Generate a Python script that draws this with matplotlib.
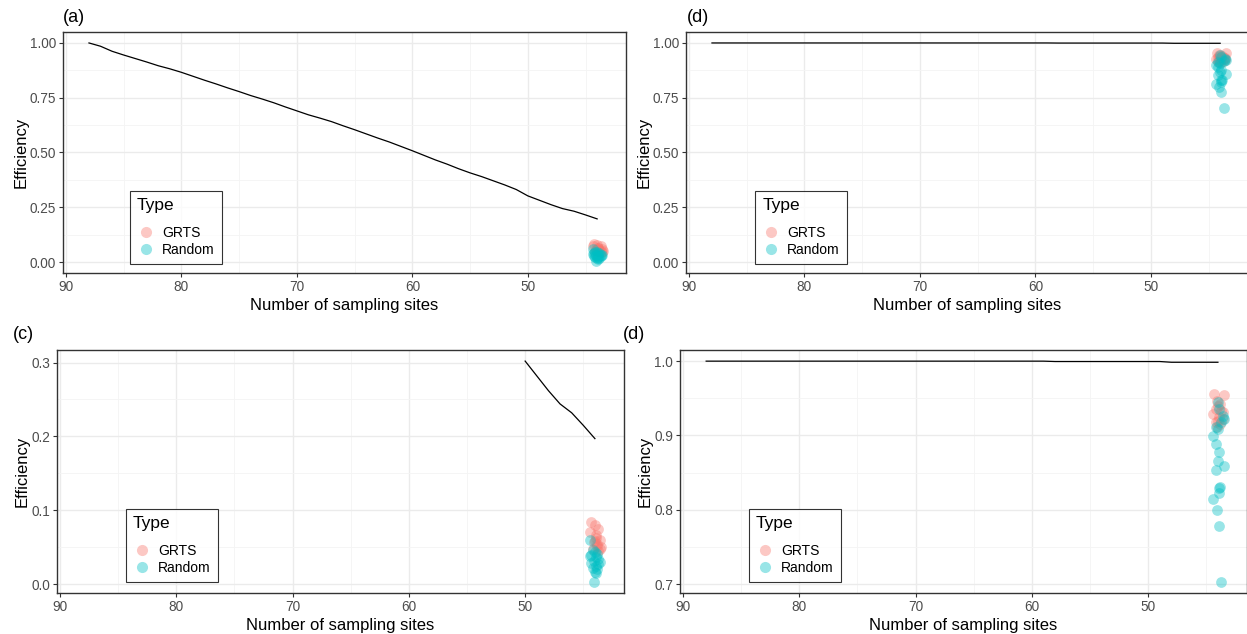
import numpy as np
import matplotlib
matplotlib.use('Agg')
import matplotlib.pyplot as plt
from matplotlib.lines import Line2D
from matplotlib.ticker import MultipleLocator

plt.rcParams['font.family'] = ['Liberation Sans', 'DejaVu Sans']

# number of sampling sites for the efficiency curves
sites = list(range(88, 43, -1))

# efficiency curve for panels (a) and (c)
eff_left = [1.000, 0.985, 0.962, 0.945, 0.929, 0.913, 0.896, 0.882, 0.866, 0.848,
            0.830, 0.813, 0.795, 0.778, 0.760, 0.744, 0.727, 0.708, 0.690, 0.672,
            0.657, 0.641, 0.622, 0.604, 0.585, 0.566, 0.548, 0.528, 0.508, 0.487,
            0.466, 0.447, 0.426, 0.407, 0.390, 0.371, 0.352, 0.331, 0.302, 0.282,
            0.262, 0.244, 0.232, 0.215, 0.197]

# efficiency curve for the right panels
eff_right = [1.000] * 30 + [0.9995] * 10 + [0.9985] * 5

# sampled designs, left panels
grts_x_left = [44.3, 44.0, 43.7, 43.9, 43.6, 44.1, 43.8, 43.5, 44.2, 43.9, 43.7, 44.4, 43.8, 44.0, 43.6]
grts_y_left = [0.084, 0.080, 0.075, 0.066, 0.060, 0.057, 0.054, 0.050, 0.048, 0.062, 0.045, 0.071, 0.052, 0.058, 0.047]
rand_x_left = [44.4, 44.2, 44.0, 43.8, 44.3, 43.9, 43.7, 44.1, 44.3, 43.6, 43.9, 44.2, 43.8, 44.0, 43.9, 44.4, 43.7, 44.1]
rand_y_left = [0.060, 0.046, 0.044, 0.041, 0.040, 0.037, 0.034, 0.032, 0.028, 0.030, 0.025, 0.022, 0.020, 0.017, 0.015, 0.038, 0.027, 0.003]

# sampled designs, right panels
grts_x_right = [44.3, 43.5, 44.1, 43.8, 44.2, 43.7, 44.4, 43.9, 43.6, 44.0, 44.2, 43.8, 43.6, 44.0, 44.1]
grts_y_right = [0.956, 0.955, 0.947, 0.942, 0.936, 0.933, 0.929, 0.925, 0.922, 0.920, 0.918, 0.915, 0.931, 0.940, 0.912]
rand_x_right = [44.0, 43.6, 43.5, 44.2, 44.0, 44.4, 44.2, 43.9, 44.0, 43.5, 44.2, 43.8, 43.9, 43.9, 44.4, 44.1, 43.9, 43.7, 43.9, 43.7]
rand_y_right = [0.945, 0.926, 0.922, 0.911, 0.909, 0.899, 0.889, 0.878, 0.866, 0.859, 0.853, 0.831, 0.829, 0.822, 0.814, 0.800, 0.778, 0.703, 0.935, 0.918]

panel_titles = ['(a)', '(d)', '(c)', '(d)']

GRTS_COL = '#F8766D'
RAND_COL = '#00BFC4'
W, H = 1247, 634


def box(l, r, t, b):
    return [l / W, (H - b) / H, (r - l) / W, (b - t) / H]


fig = plt.figure(figsize=(W / 100, H / 100), dpi=100)

panels = [
    dict(rect=box(63, 626, 32, 273), y=eff_left, gx=grts_x_left, gy=grts_y_left,
         rx=rand_x_left, ry=rand_y_left, ylim=(-0.05, 1.05), step=0.25, fmt='{:.2f}',
         leg=(0.119, 0.037), title_xy=(63, 17)),
    dict(rect=box(686, 1249, 32, 273), y=eff_right, gx=grts_x_right, gy=grts_y_right,
         rx=rand_x_right, ry=rand_y_right, ylim=(-0.05, 1.05), step=0.25, fmt='{:.2f}',
         leg=(0.123, 0.037), title_xy=(687, 17)),
    dict(rect=box(57, 624, 350, 593), y=eff_left, gx=grts_x_left, gy=grts_y_left,
         rx=rand_x_left, ry=rand_y_left, ylim=(-0.012, 0.317), step=0.1, fmt='{:.1f}',
         leg=(0.122, 0.045), title_xy=(13, 334), xmin=50),
    dict(rect=box(680, 1247, 350, 593), y=eff_right, gx=grts_x_right, gy=grts_y_right,
         rx=rand_x_right, ry=rand_y_right, ylim=(0.688, 1.015), step=0.1, fmt='{:.1f}',
         leg=(0.122, 0.045), title_xy=(623, 334)),
]

for p, title in zip(panels, panel_titles):
    ax = fig.add_axes(p['rect'])
    ax.set_facecolor('white')
    ax.scatter(p['gx'], p['gy'], s=60, color=GRTS_COL, alpha=0.4, lw=0, zorder=3)
    ax.scatter(p['rx'], p['ry'], s=60, color=RAND_COL, alpha=0.4, lw=0, zorder=3)

    xs = np.array(sites)
    ys = np.array(p['y'])
    if 'xmin' in p:
        keep = xs <= p['xmin']
        xs, ys = xs[keep], ys[keep]
    ax.plot(xs, ys, color='black', lw=0.9, zorder=4)

    ax.xaxis.set_major_locator(MultipleLocator(10))
    ax.xaxis.set_minor_locator(MultipleLocator(5))
    ax.yaxis.set_major_locator(MultipleLocator(p['step']))
    ax.yaxis.set_minor_locator(MultipleLocator(p['step'] / 2))
    ax.set_ylim(*p['ylim'])
    ticks = [t for t in ax.get_yticks() if p['ylim'][0] <= t <= p['ylim'][1]]
    ax.set_yticks(ticks)
    ax.set_yticklabels([p['fmt'].format(t) for t in ticks])
    ax.set_ylim(*p['ylim'])
    ax.set_xlim(90.25, 41.5)

    ax.grid(which='major', color='#EBEBEB', lw=1.0, zorder=0)
    ax.grid(which='minor', color='#F4F4F4', lw=0.6, zorder=0)
    ax.set_axisbelow(True)
    for s in ax.spines.values():
        s.set_color('#333333')
        s.set_linewidth(1.0)
    ax.tick_params(which='major', length=3, width=0.8, color='#333333',
                   labelsize=9.8, labelcolor='#4D4D4D', pad=2)
    ax.tick_params(which='minor', length=0)

    ax.set_xlabel('Number of sampling sites', fontsize=12, labelpad=3)
    ax.set_ylabel('Efficiency', fontsize=12, labelpad=1)

    fig.text(p['title_xy'][0] / W, 1 - p['title_xy'][1] / H, title,
             fontsize=13, ha='left', va='center')

    handles = [Line2D([], [], marker='o', ls='', color=GRTS_COL, alpha=0.4, ms=8, mew=0),
               Line2D([], [], marker='o', ls='', color=RAND_COL, alpha=0.4, ms=8, mew=0)]
    leg = ax.legend(handles, ['GRTS', 'Random'], title='Type', loc='lower left',
                    bbox_to_anchor=p['leg'], borderaxespad=0, fontsize=10,
                    title_fontsize=12.5, frameon=True, fancybox=False,
                    handletextpad=0.5, labelspacing=0.25, borderpad=0.5,
                    handlelength=1.3)
    leg._legend_box.align = 'left'
    leg._legend_box.sep = 9
    leg.get_frame().set_edgecolor('black')
    leg.get_frame().set_linewidth(0.8)
    leg.set_zorder(5)

fig.savefig('out.png', dpi=100)
